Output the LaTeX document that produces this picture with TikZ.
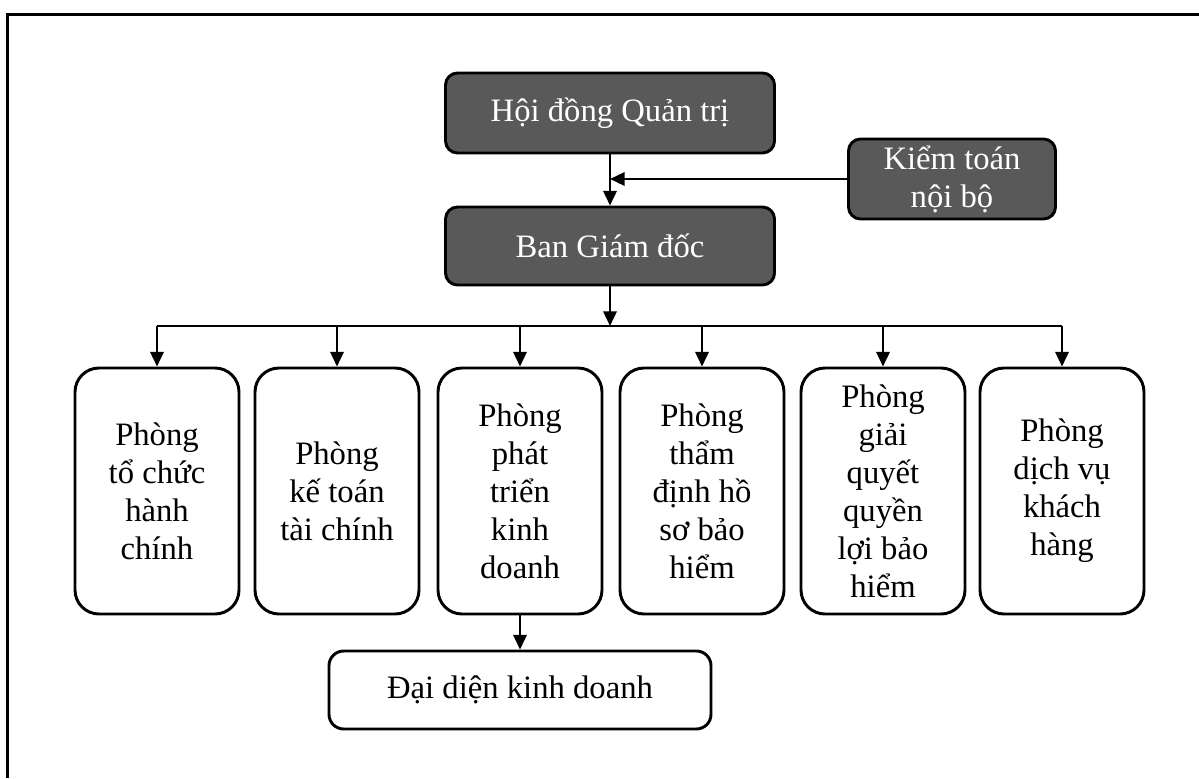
\documentclass[tikz,border=0pt]{standalone}
\usepackage{fontspec}
\setmainfont{Liberation Serif}
\usetikzlibrary{arrows.meta}
\definecolor{boardgray}{HTML}{595959}
\tikzset{
  darkbox/.style={draw=black, line width=2.2pt, fill=boardgray, text=white,
    rounded corners=9pt, align=center, inner sep=0pt},
  deptbox/.style={draw=black, line width=2.2pt, fill=white,
    rounded corners=18pt, align=center, inner sep=0pt,
    minimum width=164*0.75pt, minimum height=246*0.75pt},
  agentbox/.style={draw=black, line width=2.2pt, fill=white,
    rounded corners=11pt, align=center, inner sep=0pt},
  link/.style={line width=1.8pt},
  arr/.style={line width=1.8pt, -{Triangle[length=11pt,width=10pt]}},
  frameline/.style={line width=2.3pt},
}
\begin{document}
\begin{tikzpicture}[x=0.75pt,y=-0.75pt,
  every node/.append style={font=\fontsize{24.5pt}{28.5pt}\selectfont}]
\useasboundingbox (0,0) rectangle (1199,778);
% open frame: left and top edges only
\draw[frameline] (7.5,778) -- (7.5,14.5) -- (1199,14.5);

% board, internal audit and management
\node[darkbox, minimum width=329*0.75pt, minimum height=80*0.75pt] (hd) at (610,113) {Hội đồng Quản trị};
\node[darkbox, minimum width=329*0.75pt, minimum height=78*0.75pt] (ban) at (610,246) {Ban Giám đốc};
\node[darkbox, minimum width=207*0.75pt, minimum height=80*0.75pt] (kt) at (952,179) {Kiểm toán\\nội bộ};

\draw[arr] (hd.south) -- (ban.north);
\coordinate (kj) at (hd.south |- kt.west);
\draw[arr] (kt.west) -- (kj);

% departments
\node[deptbox] (p1) at (157,491) {Phòng\\tổ chức\\hành\\chính};
\node[deptbox] (p2) at (337,491) {Phòng\\kế toán\\tài chính};
\node[deptbox] (p3) at (520,491) {Phòng\\phát\\triển\\kinh\\doanh};
\node[deptbox] (p4) at (702,491) {Phòng\\thẩm\\định hồ\\sơ bảo\\hiểm};
\node[deptbox] (p5) at (883,491) {Phòng\\giải\\quyết\\quyền\\lợi bảo\\hiểm};
\node[deptbox] (p6) at (1062,491) {Phòng\\dịch vụ\\khách\\hàng};

\coordinate (bus) at (610,326);
\draw[arr] (ban.south) -- (bus);
\draw[link] (p1.north |- bus) -- (p6.north |- bus);
\foreach \i in {1,...,6}{
  \draw[arr] (p\i.north |- bus) -- (p\i.north);
}

% sales agents
\node[agentbox, minimum width=382*0.75pt, minimum height=78*0.75pt] (dd) at (520,690) {Đại diện kinh doanh};
\draw[arr] (p3.south) -- (dd.north);
\end{tikzpicture}
\end{document}
